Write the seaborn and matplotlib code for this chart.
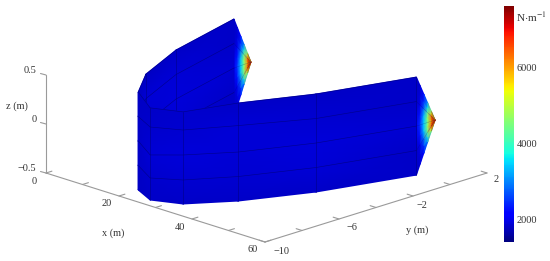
import numpy as np
import matplotlib
matplotlib.use("Agg")
import matplotlib.pyplot as plt
import seaborn as sns

# Geometry of the membrane (metres)
front_x = [20.0, 26.0, 32.2, 38.4, 45.05, 51.3]
front_y = [-8.96, -9.5, -8.95, -7.2, -4.3, -0.1]
front_z = [[-0.5, -0.5, -0.5, -0.5, -0.5, -0.5],
           [-0.25, -0.275, -0.255, -0.25, -0.25, -0.25],
           [0.0, -0.04, 0.0, 0.0, 0.0, 0.0],
           [0.25, 0.245, 0.255, 0.27, 0.25, 0.25],
           [0.5, 0.44, 0.44, 0.5, 0.5, 0.5]]
back_x = [1.06, 6.75, 13.2, 20.0]
back_y = [-0.05, -4.3, -7.2, -8.96]
back_z = [-0.5, -0.25, 0.0, 0.25, 0.5]
tip_y = 0.93
tip_back_x = 0.75
tip_front_x = 51.2
tip_t = [0.0, 0.2, 0.4, 0.6, 0.8, 1.0]
tip_s = [-1.0, -0.75, -0.5, -0.25, 0.0, 0.25, 0.5, 0.75, 1.0]

# Tension (N/m), estimated from the colours
front_T = [[1780, 1800, 1790, 1800, 1790, 1800],
           [1800, 1830, 1850, 1840, 1860, 1800],
           [1790, 1860, 1900, 1880, 1900, 1850],
           [1800, 1830, 1850, 1860, 1850, 1800],
           [1780, 1800, 1810, 1800, 1790, 1800]]
back_T = [[1800, 1800, 1790, 1780],
          [1800, 1860, 1900, 1800],
          [1850, 1900, 1850, 1790],
          [1800, 1880, 1880, 1800],
          [1800, 1800, 1780, 1780]]
tip_T = [[1800, 1800, 1800, 1950, 2050, 1950, 1800, 1800, 1800],
         [1850, 1900, 2000, 2300, 2500, 2300, 2000, 1900, 1850],
         [2100, 2400, 2800, 3300, 3400, 3300, 2800, 2400, 2100],
         [2900, 3500, 4300, 4600, 4500, 4600, 4300, 3500, 2900],
         [4500, 5500, 6300, 6300, 6000, 6300, 6300, 5500, 4500],
         [7500, 7500, 7500, 7500, 7500, 7500, 7500, 7500, 7500]]

T_min, T_max = 1395, 7620
cbar_ticks = [2000, 4000, 6000]
x_ticks = [0, 10, 20, 30, 40, 50, 60]
x_labels = ["0", "", "20", "", "40", "", "60"]
y_ticks = [-10, -8, -6, -4, -2, 0, 2]
y_labels = ["\u221210", "", "\u22126", "", "\u22122", "", "2"]
z_ticks = [-0.5, 0, 0.5]
z_labels = ["\u22120.5", "0", "0.5"]

sns.set_theme(style="white")
plt.rcParams["font.family"] = ["Liberation Serif", "DejaVu Serif"]
cmap = matplotlib.colormaps["jet"]
TXT = "#333333"
AX = "#9a9a9a"
MESH = "#00007a"
FS = 7.4


def proj(x, y, z):
    """Orthographic view used by the reference."""
    x, y, z = np.asarray(x, float), np.asarray(y, float), np.asarray(z, float)
    return (46 + 3.65 * x + 18.5 * (y + 10),
            173 + 1.15 * x - 5.75 * (y + 10) - 98 * (z + 0.5))


fig = plt.figure(figsize=(5.5, 2.61), dpi=100)
ax = fig.add_axes([0, 0, 1, 1])
ax.set_xlim(0, 550)
ax.set_ylim(261, 0)
ax.axis("off")
kw = dict(cmap=cmap, vmin=T_min, vmax=T_max, shading="gouraud", rasterized=True)


def wall(xs, ys, zs, T, zo):
    X = np.tile(xs, (len(zs), 1))
    Y = np.tile(ys, (len(zs), 1))
    Z = np.asarray(zs, float)
    px, py = proj(X, Y, Z)
    ax.pcolormesh(px, py, np.asarray(T, float), zorder=zo, **kw)
    line = dict(color=MESH, lw=0.45, alpha=0.75, zorder=zo + 0.5)
    ax.plot(px[1:].T, py[1:].T, **line)      # rows
    ax.plot(px[:, 1:], py[:, 1:], **line)    # columns


def tip(x0, x1, y0, half, zo):
    t = np.asarray(tip_t)
    s = np.asarray(tip_s)
    X = np.outer(x0 + (x1 - x0) * t, np.ones_like(s))
    Y = np.outer(y0 + (tip_y - y0) * t, np.ones_like(s))
    Z = np.outer(1 - t, s) * half
    px, py = proj(X, Y, Z)
    ax.pcolormesh(px, py, np.asarray(tip_T, float), zorder=zo, **kw)
    ax.plot(px[:, [2, 4, 6]], py[:, [2, 4, 6]], color=MESH, lw=0.3, alpha=0.4,
            zorder=zo + 0.5)


# Back wall first, the front wall hides its lower part
bz = np.tile(np.asarray(back_z)[:, None], (1, len(back_x)))
tip(back_x[0], tip_back_x, back_y[0], 0.5, 1)
wall(back_x, back_y, bz, back_T, 2)
tip(front_x[-1], tip_front_x, front_y[-1], 0.5, 3)
wall(front_x, front_y, front_z, front_T, 4)

# Axes lines
lw = 0.8
ax.plot(*proj([0, 60], [-10, -10], [-0.5, -0.5]), color=AX, lw=lw)
ax.plot(*proj([60, 60], [-10, 2], [-0.5, -0.5]), color=AX, lw=lw)
ax.plot(*proj([0, 0], [-10, -10], [-0.5, 0.5]), color=AX, lw=lw)
for v, lab in zip(x_ticks, x_labels):
    ax.plot(*proj([v, v], [-10, -9.68], [-0.5, -0.5]), color=AX, lw=lw)
    px, py = proj(v, -10, -0.5)
    if lab:
        ax.text(px - 12, py + 8, lab, fontsize=FS, color=TXT, ha="center", va="center")
y_dx = [17, 0, 13, 0, 9, 0, 9]
y_dy = [10, 0, 8, 0, 9, 0, 7]
for v, lab, dx, dy in zip(y_ticks, y_labels, y_dx, y_dy):
    ax.plot(*proj([60, 58.4], [v, v], [-0.5, -0.5]), color=AX, lw=lw)
    px, py = proj(60, v, -0.5)
    if lab:
        ax.text(px + dx, py + dy, lab, fontsize=FS, color=TXT, ha="center", va="center")
for v, lab in zip(z_ticks, z_labels):
    px, py = proj(0, -10, v)
    ax.plot([px - 5.5, px], [py - 1.5, py], color=AX, lw=lw)
    ax.text(px - 9.5, py - 4.3, lab, fontsize=FS, color=TXT, ha="right", va="center")
ax.text(113, 233, "x (m)", fontsize=FS, color=TXT, ha="center", va="center")
ax.text(417, 230, "y (m)", fontsize=FS, color=TXT, ha="center", va="center")
ax.text(17, 106, "z (m)", fontsize=FS, color=TXT, ha="center", va="center")

# Colour bar
cax = fig.add_axes([504 / 550, 1 - 242 / 261, 10 / 550, 236 / 261])
sm = plt.cm.ScalarMappable(norm=plt.Normalize(T_min, T_max), cmap=cmap)
cb = fig.colorbar(sm, cax=cax, ticks=cbar_ticks)
cb.outline.set_visible(False)
cb.ax.tick_params(length=0, pad=2, labelsize=FS, labelcolor=TXT)
ax.text(516, 17, r"N$\cdot$m$^{-1}$", fontsize=8, color=TXT, ha="left", va="center",
        math_fontfamily="stix")

fig.savefig("out.png", dpi=100)
